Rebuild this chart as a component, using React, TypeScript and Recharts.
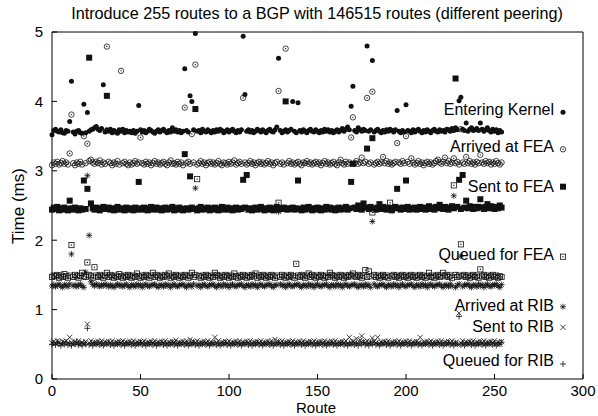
import React from 'react';
import { ScatterChart, Scatter, XAxis, YAxis } from 'recharts';

const ROUTE_TICKS = [0, 50, 100, 150, 200, 250, 300];
const TIME_TICKS = [0, 1, 2, 3, 4, 5];

const enteringKernel = [
  3.52,3.58,3.60,3.57,3.56,3.59,3.55,3.54,3.58,3.57,3.71,4.29,3.56,3.53,3.57,
  3.58,3.55,3.54,3.96,3.55,3.84,3.57,3.59,3.60,3.62,3.64,3.60,3.58,3.61,4.24,
  3.56,3.59,3.57,3.60,3.55,3.58,3.56,3.54,3.59,3.57,3.60,3.55,3.58,3.56,3.57,
  3.55,3.58,3.54,3.57,3.94,3.59,3.56,3.58,3.55,3.57,3.60,3.58,3.56,3.54,3.57,
  3.59,3.56,3.58,3.60,3.57,3.55,3.58,3.56,3.62,3.57,3.59,3.56,3.58,3.55,3.57,
  4.47,3.58,3.56,4.08,4.00,3.59,4.98,3.57,3.58,3.55,3.60,3.57,3.56,3.59,3.57,
  3.55,3.58,3.56,3.59,3.57,3.60,3.58,3.55,3.57,3.59,3.56,3.58,3.60,3.57,3.55,
  3.58,3.56,3.59,4.94,4.10,3.57,3.59,3.56,3.58,3.55,3.57,3.60,3.58,3.56,3.59,
  3.57,3.55,3.58,3.60,3.57,3.56,3.59,3.63,4.62,3.58,3.55,3.57,3.59,3.56,3.58,
  3.60,4.00,3.57,3.55,3.98,3.58,3.56,3.59,3.57,3.55,3.58,3.60,3.57,3.56,3.59,
  3.57,3.55,3.58,3.56,3.60,3.57,3.59,3.56,3.58,3.55,3.57,3.59,3.56,3.58,3.61,
  3.57,3.60,3.63,3.59,3.93,4.22,3.58,3.56,3.62,3.59,3.57,3.60,3.58,4.80,3.57,
  3.59,4.59,3.56,3.58,3.60,3.57,3.55,3.58,3.56,3.59,3.57,3.60,3.58,3.56,3.59,
  3.87,3.57,3.55,3.58,3.56,3.95,3.58,3.57,3.55,3.59,3.56,3.58,3.60,3.57,3.55,
  3.58,3.56,3.59,3.57,3.55,3.58,3.60,3.57,3.56,3.59,3.57,3.58,3.56,3.60,3.59,
  3.57,3.61,3.58,3.62,3.59,4.01,4.06,3.60,3.58,3.69,3.57,3.60,3.62,3.58,3.59,
  3.61,3.58,3.69,3.60,3.57,3.59,3.62,3.58,3.56,3.60,3.57,3.59,3.55,3.58,3.56,
];

const arrivedAtFea = [
  3.08,3.12,3.10,3.13,3.09,3.11,3.14,3.10,3.12,3.09,3.25,3.81,3.11,3.08,3.12,
  3.10,3.13,3.09,3.50,3.11,3.39,3.14,3.16,3.12,3.10,3.13,3.11,3.15,3.09,3.12,
  3.10,4.79,3.13,3.11,3.08,3.12,3.10,3.14,3.09,4.44,3.11,3.13,3.10,3.08,3.12,
  3.09,3.11,3.14,3.10,3.12,3.48,3.11,3.09,3.13,3.10,3.12,3.08,3.11,3.14,3.10,
  3.12,3.09,3.11,3.13,3.10,3.08,3.12,3.15,3.10,3.11,3.09,3.13,3.10,3.12,3.08,
  3.91,3.11,3.13,3.10,3.53,3.12,4.53,3.09,3.11,3.14,3.10,3.12,3.08,3.11,3.13,
  3.10,3.12,3.09,3.11,3.14,3.10,3.08,3.12,3.11,3.09,3.13,3.10,3.12,3.15,3.09,
  3.11,3.13,3.10,4.05,3.12,3.09,3.11,3.14,3.10,3.12,3.08,3.11,3.13,3.10,3.12,
  3.09,3.11,3.14,3.10,3.12,3.08,3.11,3.13,4.15,3.10,3.12,3.09,4.76,3.11,3.14,
  3.10,3.12,3.09,3.11,3.13,3.10,3.08,3.12,3.11,3.14,3.10,3.12,3.09,3.11,3.13,
  3.10,3.12,3.08,3.11,3.14,3.10,3.12,3.09,3.11,3.13,3.10,3.08,3.12,3.16,3.11,
  3.09,3.13,3.10,3.12,3.48,3.77,3.11,3.14,3.10,3.12,3.19,3.11,3.13,4.05,3.10,
  3.12,4.14,3.09,3.11,3.13,3.10,3.12,3.20,3.11,3.14,3.10,3.12,3.09,3.11,3.13,
  3.40,3.12,3.10,3.14,3.11,3.50,3.13,3.10,3.18,3.12,3.09,3.11,3.14,3.10,3.12,
  3.08,3.11,3.13,3.10,3.12,3.09,3.11,3.14,3.16,3.12,3.10,3.13,3.19,3.11,3.14,
  3.10,3.12,3.18,3.11,3.13,3.09,3.60,3.12,3.10,3.20,3.11,3.14,3.10,3.12,3.09,
  3.13,3.11,3.23,3.12,3.10,3.14,3.11,3.13,3.09,3.12,3.10,3.14,3.11,3.09,3.12,
];

const sentToFea = [
  2.44,2.47,2.45,2.48,2.43,2.46,2.44,2.47,2.45,2.43,2.57,2.46,2.44,2.47,2.45,
  2.43,2.46,2.44,2.86,2.45,2.74,4.63,2.53,2.46,2.44,2.47,2.45,2.43,2.46,2.48,
  2.45,4.08,2.47,2.44,2.46,2.43,2.45,2.48,2.44,2.46,2.45,2.43,2.47,2.44,2.46,
  2.45,2.43,2.47,2.44,2.84,2.46,2.44,2.47,2.45,2.43,2.46,2.48,2.44,2.45,2.47,
  2.44,2.46,2.43,2.45,2.47,2.44,2.46,2.45,2.48,2.43,2.46,2.44,2.47,2.45,2.43,
  3.24,2.46,2.44,2.92,2.47,2.45,3.89,2.43,2.46,2.48,2.44,2.46,2.45,2.47,2.43,
  2.46,2.44,2.47,2.45,2.43,2.46,2.48,2.44,2.45,2.47,2.44,2.46,2.43,2.45,2.47,
  2.44,2.46,2.45,2.87,2.47,2.94,2.44,2.46,2.43,2.45,2.47,2.44,2.46,2.48,2.45,
  2.43,2.46,2.44,2.47,2.45,2.43,2.46,2.48,2.44,2.46,2.45,2.47,4.00,2.44,2.46,
  2.45,2.47,2.44,2.46,2.86,2.45,2.43,2.47,2.44,2.46,2.48,2.45,2.43,2.46,2.44,
  2.47,2.45,2.43,2.46,2.44,2.48,2.45,2.47,2.44,2.46,2.43,2.45,2.47,2.44,2.46,
  2.45,2.48,2.44,2.46,2.84,3.10,2.47,2.45,2.50,2.46,2.44,2.53,2.47,3.32,2.45,
  2.48,3.47,2.46,2.44,2.47,2.52,2.45,2.48,2.46,2.44,2.47,2.45,2.43,2.46,2.48,
  2.74,2.46,2.44,2.47,2.45,2.86,2.48,2.44,2.46,2.45,2.47,2.44,2.46,2.48,2.45,
  2.47,2.44,2.46,2.49,2.45,2.47,2.44,2.48,2.46,2.51,2.47,2.45,2.48,2.46,2.44,
  2.47,2.49,2.46,4.33,2.48,2.87,2.45,2.94,2.47,2.57,2.46,2.49,2.47,2.45,2.48,
  2.46,2.48,2.59,2.47,2.45,2.48,2.52,2.46,2.49,2.47,2.45,2.48,2.46,2.50,2.47,
];

const queuedForFea = [
  1.47,1.49,1.48,1.50,1.46,1.49,1.47,1.51,1.48,1.46,1.49,1.93,1.47,1.50,1.48,
  1.46,1.49,1.53,1.48,1.47,1.68,1.50,1.48,1.46,1.61,1.49,1.47,1.50,1.48,1.46,
  1.49,1.53,1.47,1.50,1.48,1.46,1.49,1.47,1.51,1.48,1.46,1.49,1.47,1.50,1.48,
  1.46,1.49,1.47,1.52,1.48,1.46,1.49,1.47,1.50,1.48,1.46,1.49,1.53,1.47,1.50,
  1.48,1.46,1.49,1.47,1.50,1.48,1.52,1.46,1.49,1.47,1.50,1.48,1.46,1.49,1.47,
  1.50,1.48,1.46,1.49,1.53,1.47,1.50,2.88,1.48,1.46,1.49,1.47,1.50,1.48,1.46,
  1.49,1.47,1.53,1.50,1.48,1.46,1.49,1.47,1.50,1.48,1.46,1.49,1.47,1.52,1.48,
  1.46,1.49,1.47,1.50,1.48,1.46,1.49,1.47,1.50,1.48,1.52,1.46,1.49,1.47,1.50,
  1.48,1.46,1.49,1.47,1.50,1.48,1.46,1.49,2.54,1.47,1.50,1.48,1.46,1.49,1.47,
  1.50,1.48,1.46,1.66,1.49,1.47,1.50,1.48,1.46,1.49,1.52,1.47,1.50,1.48,1.46,
  1.49,1.47,1.50,1.48,1.46,1.49,1.47,1.53,1.50,1.48,1.46,1.49,1.47,1.50,1.48,
  1.46,1.49,1.47,1.50,1.48,1.52,1.49,1.47,1.50,1.48,1.46,1.49,1.57,1.47,1.55,
  1.48,2.40,1.50,1.47,1.49,1.46,1.48,1.50,1.47,1.49,1.46,2.54,1.48,1.50,1.47,
  1.49,1.46,1.48,1.50,1.47,1.49,1.46,1.48,1.50,1.47,1.49,1.46,1.48,1.50,1.47,
  1.49,1.46,1.48,1.53,1.47,1.49,1.46,1.48,1.50,1.47,1.49,1.53,1.48,1.50,1.47,
  1.49,1.46,2.79,1.50,1.47,1.49,1.94,1.48,1.50,1.47,1.49,1.46,1.48,1.50,1.47,
  1.49,1.46,1.58,1.48,1.50,1.47,1.49,1.46,1.48,1.50,1.47,1.49,1.46,1.48,1.47,
];

const arrivedAtRib = [
  1.34,1.36,1.33,1.35,1.37,1.34,1.32,1.36,1.35,1.33,1.37,1.80,1.34,1.36,1.33,
  1.35,1.37,1.34,1.32,1.54,2.93,2.07,1.40,1.36,1.34,1.37,1.35,1.33,1.36,1.34,
  1.37,1.35,1.33,1.36,1.34,1.32,1.35,1.37,1.34,1.36,1.33,1.35,1.37,1.34,1.32,
  1.36,1.35,1.33,1.37,1.34,1.36,1.32,1.35,1.37,1.34,1.33,1.36,1.35,1.37,1.34,
  1.32,1.36,1.35,1.33,1.37,1.34,1.36,1.32,1.35,1.37,1.34,1.33,1.36,1.35,1.37,
  1.34,1.32,1.36,1.35,1.33,1.37,2.75,1.34,1.36,1.32,1.35,1.37,1.34,1.33,1.36,
  1.35,1.37,1.34,1.32,1.36,1.35,1.33,1.37,1.34,1.36,1.32,1.35,1.37,1.34,1.33,
  1.36,1.35,1.37,1.34,1.32,1.36,1.35,1.33,1.37,1.34,1.36,1.32,1.35,1.37,1.34,
  1.33,1.36,1.35,1.37,1.34,1.32,1.36,1.35,2.41,1.37,1.34,1.36,1.32,1.35,1.37,
  1.34,1.33,1.36,1.35,1.37,1.34,1.32,1.36,1.35,1.33,1.37,1.34,1.36,1.32,1.35,
  1.37,1.34,1.33,1.36,1.35,1.37,1.34,1.32,1.36,1.35,1.33,1.37,1.34,1.36,1.32,
  1.35,1.37,1.34,1.33,1.36,1.35,1.37,1.34,1.32,1.36,1.35,1.33,1.37,1.34,1.36,
  1.32,2.27,1.37,1.34,1.33,1.36,1.35,1.37,1.34,1.32,1.36,1.35,1.33,1.37,1.34,
  1.36,1.32,1.35,1.37,1.34,1.33,1.36,1.35,1.37,1.34,1.32,1.36,1.35,1.33,1.37,
  1.34,1.36,1.32,1.35,1.37,1.34,1.33,1.36,1.35,1.37,1.34,1.32,1.36,1.35,1.33,
  1.37,1.34,2.64,1.32,1.35,1.37,1.77,1.33,1.36,1.35,1.37,1.34,1.32,1.36,1.35,
  1.33,1.37,1.34,1.36,1.32,1.35,1.37,1.34,1.33,1.36,1.35,1.37,1.34,1.32,1.36,
];

const sentToRib = [
  0.52,0.54,0.51,0.55,0.53,0.50,0.54,0.52,0.55,0.51,0.60,0.53,0.50,0.54,0.52,
  0.55,0.51,0.53,0.50,0.54,0.79,0.52,0.55,0.51,0.53,0.50,0.54,0.52,0.55,0.51,
  0.53,0.50,0.54,0.52,0.55,0.51,0.53,0.50,0.54,0.52,0.55,0.51,0.53,0.50,0.54,
  0.52,0.55,0.51,0.53,0.50,0.54,0.52,0.55,0.51,0.53,0.50,0.54,0.52,0.55,0.51,
  0.53,0.50,0.54,0.52,0.55,0.51,0.53,0.50,0.54,0.52,0.56,0.51,0.53,0.50,0.54,
  0.52,0.55,0.51,0.57,0.50,0.54,0.52,0.55,0.51,0.53,0.50,0.54,0.52,0.55,0.51,
  0.53,0.50,0.60,0.52,0.55,0.51,0.53,0.50,0.54,0.52,0.55,0.51,0.53,0.50,0.54,
  0.52,0.55,0.51,0.53,0.50,0.54,0.52,0.55,0.51,0.53,0.50,0.54,0.52,0.55,0.51,
  0.53,0.50,0.54,0.52,0.55,0.51,0.57,0.50,0.54,0.52,0.55,0.51,0.53,0.50,0.54,
  0.52,0.55,0.51,0.53,0.50,0.54,0.52,0.55,0.51,0.53,0.50,0.54,0.52,0.55,0.51,
  0.53,0.50,0.54,0.52,0.55,0.51,0.53,0.50,0.54,0.52,0.55,0.51,0.53,0.50,0.54,
  0.52,0.55,0.51,0.60,0.50,0.54,0.52,0.58,0.51,0.56,0.62,0.54,0.52,0.55,0.51,
  0.53,0.59,0.54,0.52,0.60,0.51,0.53,0.50,0.54,0.52,0.55,0.51,0.53,0.50,0.54,
  0.52,0.55,0.51,0.53,0.50,0.54,0.52,0.55,0.51,0.53,0.50,0.54,0.52,0.60,0.51,
  0.53,0.50,0.54,0.52,0.55,0.51,0.53,0.50,0.54,0.52,0.55,0.51,0.53,0.50,0.54,
  0.52,0.55,0.51,0.53,0.50,0.95,0.52,0.55,0.51,0.53,0.50,0.54,0.52,0.55,0.51,
  0.53,0.50,0.54,0.52,0.55,0.51,0.53,0.50,0.54,0.52,0.55,0.51,0.53,0.50,0.54,
];

const queuedForRib = [
  0.50,0.52,0.49,0.53,0.51,0.48,0.52,0.50,0.53,0.49,0.51,0.48,0.52,0.50,0.53,
  0.49,0.51,0.48,0.52,0.50,0.73,0.49,0.51,0.48,0.52,0.50,0.53,0.49,0.51,0.48,
  0.52,0.50,0.53,0.49,0.51,0.48,0.52,0.50,0.53,0.49,0.51,0.48,0.52,0.50,0.53,
  0.49,0.51,0.48,0.52,0.50,0.53,0.49,0.51,0.48,0.52,0.50,0.53,0.49,0.51,0.48,
  0.52,0.50,0.53,0.49,0.51,0.48,0.52,0.50,0.53,0.49,0.51,0.48,0.52,0.50,0.53,
  0.49,0.51,0.48,0.52,0.50,0.53,0.49,0.51,0.48,0.52,0.50,0.53,0.49,0.51,0.48,
  0.52,0.50,0.53,0.49,0.51,0.48,0.52,0.50,0.53,0.49,0.51,0.48,0.52,0.50,0.53,
  0.49,0.51,0.48,0.52,0.50,0.53,0.49,0.51,0.48,0.52,0.50,0.53,0.49,0.51,0.48,
  0.52,0.50,0.53,0.49,0.51,0.48,0.52,0.50,0.53,0.49,0.51,0.48,0.52,0.50,0.53,
  0.49,0.51,0.48,0.52,0.50,0.53,0.49,0.51,0.48,0.52,0.50,0.53,0.49,0.51,0.48,
  0.52,0.50,0.53,0.49,0.51,0.48,0.52,0.50,0.53,0.49,0.51,0.48,0.52,0.50,0.53,
  0.49,0.51,0.48,0.52,0.50,0.53,0.49,0.51,0.48,0.52,0.50,0.53,0.49,0.51,0.48,
  0.52,0.50,0.53,0.49,0.51,0.48,0.52,0.50,0.53,0.49,0.51,0.48,0.52,0.50,0.53,
  0.49,0.51,0.48,0.52,0.50,0.53,0.49,0.51,0.48,0.52,0.50,0.53,0.49,0.51,0.48,
  0.52,0.50,0.53,0.49,0.51,0.48,0.52,0.50,0.53,0.49,0.51,0.48,0.52,0.50,0.53,
  0.49,0.51,0.48,0.52,0.50,0.90,0.49,0.51,0.48,0.52,0.50,0.53,0.49,0.51,0.48,
  0.52,0.50,0.53,0.49,0.51,0.48,0.52,0.50,0.53,0.49,0.51,0.48,0.52,0.50,0.53,
];

const SERIES_NAMES = [
  'Entering Kernel', 'Arrived at FEA', 'Sent to FEA', 'Queued for FEA',
  'Arrived at RIB', 'Sent to RIB', 'Queued for RIB',
];
const SERIES_VALUES = [
  enteringKernel, arrivedAtFea, sentToFea, queuedForFea,
  arrivedAtRib, sentToRib, queuedForRib,
];
const MARKERS = ['dot', 'ocircle', 'fsquare', 'osquare', 'star', 'cross', 'plus'];
// legend label baselines and marker centres (px) in the layout
const LEGEND_BASELINES = [115, 151.7, 191.5, 260, 310.7, 332, 366];
const LEGEND_MARKER_Y = [112.3, 149.3, 186.7, 256.7, 306.7, 327.3, 364];

const INK = '#111';
const FONT = '"Liberation Sans", Arial, Helvetica, sans-serif';

function Marker({ kind, cx, cy }: { kind: string; cx: number; cy: number }) {
  const sw = 0.8;
  switch (kind) {
    case 'dot':
      return <circle cx={cx} cy={cy} r={2.5} fill={INK} />;
    case 'ocircle':
      return (
        <g>
          <circle cx={cx} cy={cy} r={2.7} fill="none" stroke={INK} strokeWidth={sw} />
          <circle cx={cx} cy={cy} r={0.7} fill={INK} />
        </g>
      );
    case 'fsquare':
      return <rect x={cx - 3} y={cy - 3} width={6} height={6} fill={INK} />;
    case 'osquare':
      return (
        <g>
          <rect x={cx - 2.6} y={cy - 2.6} width={5.2} height={5.2} fill="none" stroke={INK} strokeWidth={sw} />
          <rect x={cx - 0.6} y={cy - 0.6} width={1.2} height={1.2} fill={INK} />
        </g>
      );
    case 'star':
      return (
        <path
          d={`M${cx - 3},${cy}H${cx + 3}M${cx},${cy - 3}V${cy + 3}M${cx - 2.3},${cy - 2.3}L${cx + 2.3},${cy + 2.3}M${cx - 2.3},${cy + 2.3}L${cx + 2.3},${cy - 2.3}`}
          stroke={INK}
          strokeWidth={sw}
          fill="none"
        />
      );
    case 'cross':
      return (
        <path
          d={`M${cx - 2.6},${cy - 2.6}L${cx + 2.6},${cy + 2.6}M${cx - 2.6},${cy + 2.6}L${cx + 2.6},${cy - 2.6}`}
          stroke={INK}
          strokeWidth={sw}
          fill="none"
        />
      );
    default:
      return (
        <path
          d={`M${cx - 3},${cy}H${cx + 3}M${cx},${cy - 3}V${cy + 3}`}
          stroke={INK}
          strokeWidth={sw}
          fill="none"
        />
      );
  }
}

const W = 598;
const H = 416;

export default function App() {
  const datasets = SERIES_VALUES.map((vals) => vals.map((t, i) => ({ route: i, t })));
  const order = [6, 5, 4, 3, 2, 1, 0];
  return (
    <div style={{ position: 'absolute', left: 0, top: 0, width: W, height: H, background: '#fff' }}>
      <ScatterChart
        width={W}
        height={H}
        margin={{ top: 31, right: 14, bottom: 0, left: 0 }}
        style={{ fontFamily: FONT }}
      >
        <XAxis
          xAxisId="b"
          dataKey="route"
          type="number"
          domain={[0, 300]}
          ticks={ROUTE_TICKS}
          height={37}
          tickSize={-5}
          tickMargin={11}
          stroke="#000"
          tick={{ fill: '#000', fontSize: 15, fontFamily: FONT }}
          allowDecimals={false}
        />
        <XAxis
          xAxisId="t"
          orientation="top"
          type="number"
          domain={[0, 300]}
          ticks={ROUTE_TICKS}
          height={1}
          tickSize={-5}
          tick={false}
          stroke="#000"
        />
        <YAxis
          yAxisId="l"
          dataKey="t"
          type="number"
          domain={[0, 5]}
          ticks={TIME_TICKS}
          width={52}
          tickSize={-5}
          tickMargin={14}
          stroke="#000"
          tick={{ fill: '#000', fontSize: 15, fontFamily: FONT }}
        />
        <YAxis
          yAxisId="r"
          orientation="right"
          type="number"
          domain={[0, 5]}
          ticks={TIME_TICKS}
          width={1}
          tickSize={-5}
          tick={false}
          stroke="#000"
        />
        {order.map((k) => (
          <Scatter
            key={SERIES_NAMES[k]}
            name={SERIES_NAMES[k]}
            data={datasets[k]}
            xAxisId="b"
            yAxisId="l"
            isAnimationActive={false}
            shape={(p: any) => <Marker kind={MARKERS[k]} cx={p.cx} cy={p.cy} />}
          />
        ))}
      </ScatterChart>
      <svg
        width={W}
        height={H}
        style={{ position: 'absolute', left: 0, top: 0, pointerEvents: 'none', fontFamily: FONT }}
      >
        <text x={317} y={19} textAnchor="middle" fontSize={16.2} fill="#000">
          Introduce 255 routes to a BGP with 146515 routes (different peering)
        </text>
        <text x={316} y={413} textAnchor="middle" fontSize={15} fill="#000">
          Route
        </text>
        <text
          x={24}
          y={206}
          textAnchor="middle"
          fontSize={17}
          fill="#000"
          transform="rotate(-90 24 206)"
        >
          Time (ms)
        </text>
        {SERIES_NAMES.map((name, k) => (
          <g key={name}>
            <text x={554} y={LEGEND_BASELINES[k]} textAnchor="end" fontSize={16} fill="#000">
              {name}
            </text>
            <Marker kind={MARKERS[k]} cx={563} cy={LEGEND_MARKER_Y[k]} />
          </g>
        ))}
      </svg>
    </div>
  );
}
